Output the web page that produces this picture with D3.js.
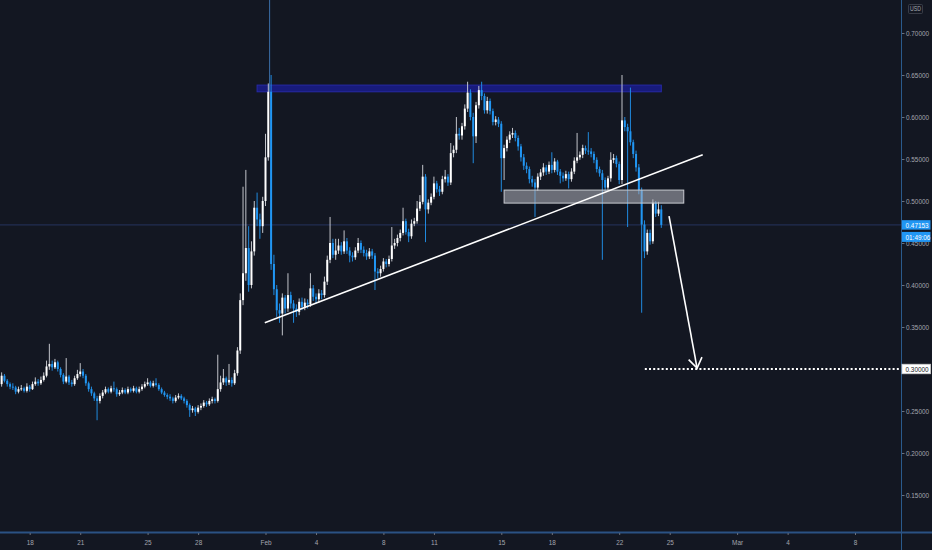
<!DOCTYPE html>
<html>
<head>
<meta charset="utf-8">
<script src="https://cdn.jsdelivr.net/npm/d3@7"></script>
<style>
	html, body { margin: 0; padding: 0; background: #131722; }
	svg { display: block; }
</style>
</head>
<body>
<div id="chart"></div>
<script>

// 4h candles, first one opens 2021-01-16 08:00 UTC
var CANDLE_START = Date.UTC(2021, 0, 16, 8);
var CANDLE_STEP = 4 * 3600 * 1000;
var FIRST_OPEN = 0.282;

var closes = [
	0.292,0.286,0.282,0.279,0.278,0.273,0.276,0.277,0.274,0.279,
	0.276,0.282,0.285,0.283,0.287,0.292,0.303,0.306,0.302,0.308,
	0.300,0.293,0.285,0.291,0.284,0.282,0.289,0.294,0.297,0.292,
	0.283,0.276,0.271,0.265,0.262,0.268,0.272,0.276,0.273,0.277,
	0.276,0.270,0.272,0.275,0.272,0.276,0.274,0.277,0.273,0.276,
	0.279,0.282,0.284,0.280,0.283,0.281,0.276,0.272,0.269,0.267,
	0.265,0.262,0.266,0.268,0.265,0.262,0.257,0.251,0.253,0.249,
	0.254,0.256,0.260,0.258,0.262,0.264,0.262,0.276,0.284,0.289,
	0.284,0.287,0.283,0.295,0.322,0.382,0.414,0.444,0.400,0.440,
	0.492,0.478,0.470,0.500,0.552,0.630,0.425,0.395,0.370,0.366,
	0.385,0.372,0.388,0.378,0.372,0.368,0.380,0.374,0.379,0.377,
	0.396,0.386,0.383,0.390,0.388,0.404,0.430,0.450,0.436,0.441,
	0.447,0.440,0.452,0.441,0.435,0.433,0.441,0.450,0.442,0.438,
	0.434,0.440,0.435,0.416,0.414,0.419,0.428,0.425,0.431,0.447,
	0.450,0.456,0.462,0.476,0.463,0.458,0.473,0.476,0.491,0.499,
	0.529,0.490,0.498,0.505,0.521,0.514,0.511,0.526,0.529,0.522,
	0.557,0.561,0.580,0.578,0.589,0.610,0.629,0.600,0.577,0.614,
	0.632,0.625,0.608,0.619,0.607,0.594,0.597,0.592,0.551,0.563,
	0.573,0.579,0.581,0.575,0.565,0.552,0.542,0.538,0.526,0.522,
	0.516,0.529,0.534,0.540,0.535,0.543,0.537,0.547,0.535,0.530,
	0.527,0.532,0.526,0.535,0.548,0.552,0.555,0.563,0.560,0.559,
	0.556,0.549,0.538,0.533,0.525,0.516,0.527,0.549,0.551,0.544,
	0.525,0.596,0.588,0.583,0.570,0.556,0.540,0.513,0.472,0.440,
	0.462,0.452,0.498,0.485,0.490,0.47153
];

var highs = [
	0.296,0.294,0.288,0.284,0.283,0.280,0.279,0.281,0.279,0.283,
	0.281,0.285,0.290,0.288,0.291,0.296,0.310,0.330,0.310,0.312,
	0.310,0.302,0.295,0.313,0.293,0.287,0.292,0.299,0.307,0.300,
	0.294,0.285,0.279,0.273,0.268,0.271,0.275,0.279,0.278,0.280,
	0.285,0.278,0.275,0.278,0.277,0.279,0.278,0.280,0.279,0.279,
	0.282,0.285,0.289,0.286,0.286,0.289,0.283,0.278,0.274,0.271,
	0.270,0.267,0.269,0.271,0.270,0.267,0.264,0.259,0.256,0.255,
	0.257,0.259,0.263,0.262,0.265,0.267,0.266,0.317,0.292,0.300,
	0.291,0.306,0.290,0.299,0.326,0.390,0.517,0.537,0.470,0.452,
	0.500,0.510,0.485,0.505,0.580,0.640,0.650,0.436,0.400,0.378,
	0.390,0.388,0.414,0.392,0.382,0.377,0.384,0.385,0.384,0.383,
	0.414,0.400,0.390,0.395,0.394,0.410,0.435,0.481,0.455,0.455,
	0.455,0.451,0.465,0.456,0.445,0.439,0.445,0.456,0.453,0.446,
	0.442,0.444,0.443,0.438,0.420,0.423,0.432,0.431,0.435,0.469,
	0.455,0.460,0.466,0.492,0.479,0.467,0.478,0.480,0.500,0.507,
	0.543,0.532,0.502,0.509,0.529,0.524,0.518,0.530,0.537,0.532,
	0.569,0.566,0.600,0.587,0.593,0.615,0.642,0.633,0.605,0.618,
	0.637,0.642,0.628,0.624,0.622,0.610,0.601,0.600,0.595,0.567,
	0.577,0.583,0.587,0.584,0.578,0.568,0.556,0.546,0.541,0.530,
	0.526,0.533,0.538,0.545,0.543,0.547,0.558,0.551,0.549,0.538,
	0.534,0.536,0.535,0.539,0.552,0.581,0.559,0.567,0.566,0.582,
	0.563,0.559,0.552,0.541,0.537,0.528,0.530,0.558,0.556,0.554,
	0.547,0.650,0.600,0.592,0.635,0.573,0.560,0.544,0.516,0.477,
	0.466,0.466,0.502,0.500,0.499,0.495
];

var lows = [
	0.279,0.284,0.279,0.276,0.275,0.270,0.271,0.274,0.272,0.272,
	0.273,0.275,0.280,0.280,0.281,0.285,0.290,0.299,0.298,0.300,
	0.297,0.290,0.282,0.283,0.281,0.279,0.280,0.287,0.291,0.289,
	0.280,0.273,0.268,0.262,0.239,0.259,0.265,0.270,0.271,0.271,
	0.273,0.267,0.268,0.270,0.270,0.270,0.272,0.272,0.271,0.271,
	0.274,0.277,0.280,0.278,0.278,0.279,0.274,0.270,0.267,0.264,
	0.262,0.259,0.260,0.264,0.263,0.259,0.254,0.243,0.248,0.244,
	0.247,0.251,0.254,0.255,0.256,0.259,0.259,0.260,0.273,0.281,
	0.280,0.281,0.279,0.281,0.292,0.318,0.376,0.405,0.392,0.396,
	0.435,0.470,0.455,0.462,0.494,0.548,0.418,0.388,0.362,0.355,
	0.340,0.366,0.368,0.372,0.355,0.362,0.364,0.370,0.370,0.372,
	0.374,0.381,0.378,0.379,0.383,0.385,0.400,0.426,0.432,0.430,
	0.437,0.436,0.437,0.437,0.427,0.428,0.430,0.438,0.438,0.434,
	0.430,0.431,0.431,0.394,0.408,0.410,0.416,0.421,0.422,0.428,
	0.443,0.446,0.452,0.459,0.460,0.451,0.455,0.470,0.473,0.488,
	0.496,0.451,0.485,0.495,0.502,0.510,0.506,0.508,0.522,0.518,
	0.519,0.552,0.557,0.573,0.573,0.585,0.606,0.596,0.545,0.569,
	0.610,0.620,0.604,0.604,0.603,0.590,0.590,0.588,0.511,0.525,
	0.559,0.569,0.575,0.571,0.560,0.547,0.537,0.533,0.521,0.517,
	0.481,0.512,0.525,0.530,0.531,0.532,0.533,0.534,0.531,0.521,
	0.523,0.524,0.515,0.523,0.532,0.545,0.549,0.551,0.556,0.555,
	0.552,0.545,0.534,0.529,0.430,0.512,0.513,0.523,0.545,0.540,
	0.520,0.520,0.583,0.469,0.566,0.551,0.535,0.508,0.367,0.432,
	0.436,0.448,0.449,0.481,0.482,0.468
];

// axis labels
var priceTicks = [0.15, 0.20, 0.25, 0.30, 0.35, 0.40, 0.45, 0.50, 0.55, 0.60, 0.65, 0.70];
var timeTicks = ["2021-01-18", "2021-01-21", "2021-01-25", "2021-01-28", "2021-02-01", "2021-02-04",
	"2021-02-08", "2021-02-11", "2021-02-15", "2021-02-18", "2021-02-22", "2021-02-25",
	"2021-03-01", "2021-03-04", "2021-03-08"];
var timeLabels = ["18", "21", "25", "28", "Feb", "4", "8", "11", "15", "18", "22", "25", "Mar", "4", "8"];

var LAST_PRICE = 0.47153;
var COUNTDOWN = "01:49:06";
var TARGET_PRICE = 0.30;

// drawings: [time, price] pairs
var resistanceZone = { from: "2021-01-31T12:00Z", to: "2021-02-24T12:00Z", top: 0.638, bottom: 0.630 };
var supportBox = { from: "2021-02-15T04:00Z", to: "2021-02-25T20:00Z", top: 0.513, bottom: 0.4975 };
var trendLine = [["2021-01-31T23:00Z", 0.355], ["2021-02-26T23:00Z", 0.555]];
var arrowLine = [["2021-02-24T23:00Z", 0.482], ["2021-02-26T15:00Z", 0.301]];
var targetLineStart = "2021-02-23T12:30Z";


var W = 932, H = 550;
var PLOT_RIGHT = 901.5;
var PLOT_BOTTOM = 532.5;
var FONT = "'Liberation Sans',Arial,sans-serif";
var NARROW = 0.8; // horizontal squeeze, the axis font is a condensed one
var TEXT_COLOR = "#a3a6af";
var UP_COLOR = "#ffffff";
var UP_WICK = "#d6d8de";
var DOWN_COLOR = "#2196f3";

var x = d3.scaleUtc()
	.domain([Date.UTC(2021, 0, 18), Date.UTC(2021, 2, 8)])
	.range([29.7, 855]);

var y = d3.scaleLinear()
	.domain([0.15, 0.70])
	.range([495, 33]);

var svg = d3.select("#chart").append("svg")
	.attr("width", W)
	.attr("height", H);

svg.append("rect")
	.attr("width", W).attr("height", H)
	.attr("fill", "#131722");

svg.append("clipPath").attr("id", "plot-clip")
	.append("rect")
	.attr("x", 0).attr("y", 0)
	.attr("width", PLOT_RIGHT).attr("height", PLOT_BOTTOM);

var plot = svg.append("g").attr("clip-path", "url(#plot-clip)");

// narrow text: scale x only, keep the anchor point where it was
function squeeze(sel) {
	sel.each(function() {
		var t = d3.select(this);
		var x0 = +t.attr("x") || 0;
		t.attr("x", x0 / NARROW)
			.attr("transform", "scale(" + NARROW + ",1)");
	});
}

// last price line
plot.append("line")
	.attr("x1", 0).attr("x2", PLOT_RIGHT)
	.attr("y1", y(LAST_PRICE)).attr("y2", y(LAST_PRICE))
	.attr("stroke", "#26345f")
	.attr("stroke-width", 1);

// resistance zone
plot.append("rect")
	.attr("x", x(new Date(resistanceZone.from)))
	.attr("y", y(resistanceZone.top))
	.attr("width", x(new Date(resistanceZone.to)) - x(new Date(resistanceZone.from)))
	.attr("height", y(resistanceZone.bottom) - y(resistanceZone.top))
	.attr("fill", "#181b7c")
	.attr("stroke", "#272aa6")
	.attr("stroke-width", 1);

// candles
var candles = closes.map(function(c, i) {
	return {
		t: new Date(CANDLE_START + i * CANDLE_STEP),
		o: i === 0 ? FIRST_OPEN : closes[i - 1],
		h: highs[i],
		l: lows[i],
		c: c
	};
});

// vertical marker line on the Feb 1 top
var topCandle = candles[96];
plot.append("line")
	.attr("x1", x(topCandle.t) - 1.5).attr("x2", x(topCandle.t) - 1.5)
	.attr("y1", 0).attr("y2", y(topCandle.o))
	.attr("stroke", "#3b6fa8")
	.attr("stroke-width", 1);

var candleG = plot.append("g");

candleG.selectAll("line.wick")
	.data(candles)
	.enter().append("line")
	.attr("class", "wick")
	.attr("x1", function(d) { return x(d.t); })
	.attr("x2", function(d) { return x(d.t); })
	.attr("y1", function(d) { return y(d.h); })
	.attr("y2", function(d) { return y(d.l); })
	.attr("stroke", function(d) { return d.c >= d.o ? UP_WICK : DOWN_COLOR; })
	.attr("stroke-width", 0.9);

candleG.selectAll("rect.body")
	.data(candles)
	.enter().append("rect")
	.attr("class", "body")
	.attr("x", function(d) { return x(d.t) - 1; })
	.attr("width", 2)
	.attr("y", function(d) { return y(Math.max(d.o, d.c)); })
	.attr("height", function(d) { return Math.max(1, Math.abs(y(d.o) - y(d.c))); })
	.attr("fill", function(d) { return d.c >= d.o ? UP_COLOR : DOWN_COLOR; });

// support box
plot.append("rect")
	.attr("x", x(new Date(supportBox.from)))
	.attr("y", y(supportBox.top))
	.attr("width", x(new Date(supportBox.to)) - x(new Date(supportBox.from)))
	.attr("height", y(supportBox.bottom) - y(supportBox.top))
	.attr("fill", "rgba(178,181,190,0.55)")
	.attr("stroke", "#c9cbd1")
	.attr("stroke-width", 1);

// rising trend line
plot.append("line")
	.attr("x1", x(new Date(trendLine[0][0]))).attr("y1", y(trendLine[0][1]))
	.attr("x2", x(new Date(trendLine[1][0]))).attr("y2", y(trendLine[1][1]))
	.attr("stroke", "#ffffff")
	.attr("stroke-width", 1.6);

// target dotted line
plot.append("line")
	.attr("x1", x(new Date(targetLineStart))).attr("x2", PLOT_RIGHT)
	.attr("y1", y(TARGET_PRICE)).attr("y2", y(TARGET_PRICE))
	.attr("stroke", "#ffffff")
	.attr("stroke-width", 2)
	.attr("stroke-dasharray", "2,2.2");

// arrow
var ax1 = x(new Date(arrowLine[0][0])), ay1 = y(arrowLine[0][1]);
var ax2 = x(new Date(arrowLine[1][0])), ay2 = y(arrowLine[1][1]);
var ang = Math.atan2(ay2 - ay1, ax2 - ax1);
var headLen = 12, headSpread = 0.6;
var head = [
	[ax2 - headLen * Math.cos(ang - headSpread), ay2 - headLen * Math.sin(ang - headSpread)],
	[ax2, ay2],
	[ax2 - headLen * Math.cos(ang + headSpread), ay2 - headLen * Math.sin(ang + headSpread)]
];
plot.append("line")
	.attr("x1", ax1).attr("y1", ay1)
	.attr("x2", ax2).attr("y2", ay2)
	.attr("stroke", "#ffffff")
	.attr("stroke-width", 1.6);
plot.append("path")
	.attr("d", d3.line()(head))
	.attr("fill", "none")
	.attr("stroke", "#ffffff")
	.attr("stroke-width", 1.6);


// ---- axes ----
svg.append("line")
	.attr("x1", PLOT_RIGHT).attr("x2", PLOT_RIGHT)
	.attr("y1", 0).attr("y2", H)
	.attr("stroke", "#2a5a8c")
	.attr("stroke-width", 1);

svg.append("line")
	.attr("x1", 0).attr("x2", W)
	.attr("y1", PLOT_BOTTOM).attr("y2", PLOT_BOTTOM)
	.attr("stroke", "#2b5284")
	.attr("stroke-width", 2);

var yAxis = d3.axisRight(y)
	.tickValues(priceTicks)
	.tickSize(2.5)
	.tickPadding(1.5)
	.tickFormat(d3.format(".5f"));

var yAxisG = svg.append("g")
	.attr("transform", "translate(" + (PLOT_RIGHT + 0.5) + ",0)")
	.call(yAxis);
yAxisG.select(".domain").remove();
yAxisG.selectAll("line").attr("stroke", "#6b6f7a");
yAxisG.selectAll("text")
	.attr("fill", TEXT_COLOR)
	.attr("font-family", FONT)
	.attr("font-size", "8px")
	.call(squeeze);

var xAxis = d3.axisBottom(x)
	.tickValues(timeTicks.map(function(s) { return new Date(s + "T00:00Z"); }))
	.tickSize(2)
	.tickPadding(4)
	.tickFormat(function(d, i) { return timeLabels[i]; });

var xAxisG = svg.append("g")
	.attr("transform", "translate(0," + (PLOT_BOTTOM + 0.5) + ")")
	.call(xAxis);
xAxisG.select(".domain").remove();
xAxisG.selectAll("line").attr("stroke", "#6b6f7a");
xAxisG.selectAll("text")
	.attr("fill", TEXT_COLOR)
	.attr("font-family", FONT)
	.attr("font-size", "8px")
	.call(squeeze);

// price labels on the axis
function axisTag(price, dy, h, text, bg, fg, border) {
	var g = svg.append("g").attr("transform", "translate(" + (PLOT_RIGHT + 0.5) + "," + (y(price) + dy) + ")");
	g.append("rect")
		.attr("x", 0).attr("y", -h / 2)
		.attr("width", W - PLOT_RIGHT - 2).attr("height", h)
		.attr("fill", bg)
		.attr("stroke", border || "none")
		.attr("stroke-width", 0.8);
	g.append("text")
		.attr("x", 3.5).attr("y", 0)
		.attr("dy", "0.34em")
		.attr("fill", fg)
		.attr("font-family", FONT)
		.attr("font-size", "8px")
		.text(text)
		.call(squeeze);
}

axisTag(LAST_PRICE, 0, 9.5, d3.format(".5f")(LAST_PRICE), "#2196f3", "#ffffff");
axisTag(LAST_PRICE, 12, 10, COUNTDOWN, "#2196f3", "#ffffff");
axisTag(TARGET_PRICE, 0, 9.5, d3.format(".5f")(TARGET_PRICE), "#ffffff", "#131722", "#d0d0d0");

// currency box
var usd = svg.append("g").attr("transform", "translate(908.5,4.5)");
usd.append("rect")
	.attr("width", 14).attr("height", 9)
	.attr("fill", "#131722")
	.attr("stroke", "#434651")
	.attr("stroke-width", 0.8)
	.attr("rx", 1);
usd.append("text")
	.attr("x", 7).attr("y", 4.6)
	.attr("dy", "0.34em")
	.attr("text-anchor", "middle")
	.attr("fill", TEXT_COLOR)
	.attr("font-family", FONT)
	.attr("font-size", "6.5px")
	.text("USD")
	.call(squeeze);

</script>
</body>
</html>
